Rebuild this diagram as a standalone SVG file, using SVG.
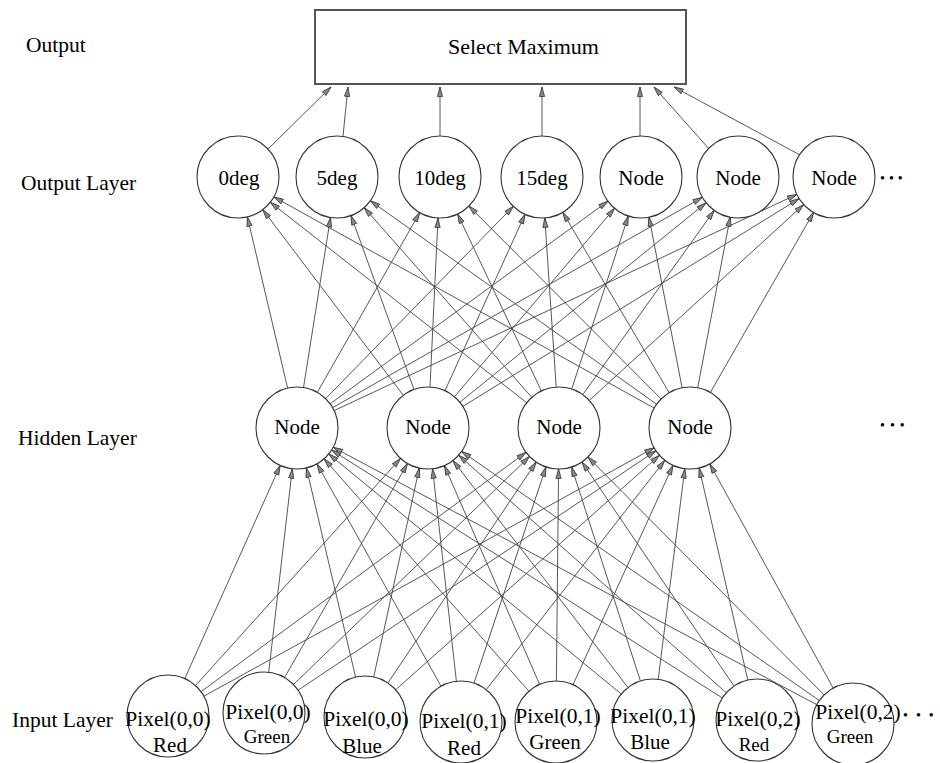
<svg xmlns="http://www.w3.org/2000/svg" width="940" height="763" viewBox="0 0 940 763">
<defs>
<marker id="arr" markerUnits="userSpaceOnUse" markerWidth="11" markerHeight="8" refX="10" refY="3.5" orient="auto">
<path d="M0.5,0.9 L10,3.5 L0.5,6.1 Z" fill="#888" stroke="#333" stroke-width="0.8" stroke-linejoin="miter"/>
</marker>
<style>
.bg{fill:#fff}
.c{fill:#fff;stroke:#333;stroke-width:1.1}
.box{fill:#fff;stroke:#555;stroke-width:2}
.e line{stroke:#444;stroke-width:0.9;marker-end:url(#arr)}
text{font-family:"Liberation Serif","Times New Roman",serif;font-size:21px;fill:#000}
.m{text-anchor:middle}
.p{font-size:21.5px}
.s{font-size:19px}
.lab{font-size:21.5px}
.dots{font-size:14px;letter-spacing:4px}
</style>
</defs>
<rect class="bg" x="0" y="0" width="940" height="763"/>

<g id="labels">
<text class="lab" x="26" y="52">Output</text>
<text class="lab" x="21" y="190">Output Layer</text>
<text class="lab" x="18" y="445">Hidden Layer</text>
<text class="lab" x="12" y="727">Input Layer</text>
</g>

<g id="connectors" class="e">
<!-- output layer to Select Maximum -->
<line x1="268" y1="149" x2="331" y2="87"/>
<line x1="343" y1="136" x2="348" y2="87"/>
<line x1="440" y1="136" x2="440" y2="87"/>
<line x1="542" y1="136" x2="542" y2="87"/>
<line x1="640" y1="136" x2="640" y2="87"/>
<line x1="710" y1="150" x2="654" y2="87"/>
<line x1="800" y1="155" x2="674" y2="87"/>
<!-- hidden to output -->
<line x1="287.6" y1="388.1" x2="247.4" y2="216.9"/>
<line x1="303.5" y1="387.5" x2="330.5" y2="217.5"/>
<line x1="317.3" y1="392.4" x2="419.7" y2="212.6"/>
<line x1="325.6" y1="398.7" x2="513.4" y2="206.3"/>
<line x1="330.1" y1="403.8" x2="607.9" y2="201.2"/>
<line x1="332.6" y1="407.7" x2="702.4" y2="197.3"/>
<line x1="334.1" y1="410.6" x2="796.9" y2="194.4"/>
<line x1="403.3" y1="395.3" x2="262.8" y2="209.7"/>
<line x1="414.0" y1="389.5" x2="351.0" y2="215.5"/>
<line x1="430.0" y1="387.0" x2="438.0" y2="218.0"/>
<line x1="445.0" y1="390.7" x2="525.0" y2="214.3"/>
<line x1="454.5" y1="396.7" x2="614.5" y2="208.3"/>
<line x1="459.9" y1="402.2" x2="706.1" y2="202.8"/>
<line x1="462.9" y1="406.4" x2="799.1" y2="198.6"/>
<line x1="526.7" y1="402.7" x2="270.3" y2="202.3"/>
<line x1="531.8" y1="397.3" x2="364.2" y2="207.7"/>
<line x1="541.4" y1="391.0" x2="457.6" y2="214.0"/>
<line x1="556.2" y1="387.1" x2="544.8" y2="217.9"/>
<line x1="571.7" y1="389.0" x2="628.3" y2="216.0"/>
<line x1="582.8" y1="394.6" x2="714.2" y2="210.4"/>
<line x1="589.3" y1="400.4" x2="803.7" y2="204.6"/>
<line x1="654.2" y1="408.1" x2="273.8" y2="196.9"/>
<line x1="656.6" y1="404.2" x2="370.4" y2="200.8"/>
<line x1="661.1" y1="399.0" x2="468.9" y2="206.0"/>
<line x1="669.2" y1="392.7" x2="562.8" y2="212.3"/>
<line x1="682.1" y1="387.8" x2="648.9" y2="216.8"/>
<line x1="697.7" y1="387.7" x2="730.3" y2="216.7"/>
<line x1="710.4" y1="392.4" x2="813.6" y2="212.4"/>
<!-- input to hidden -->
<line x1="184.8" y1="678.6" x2="280.2" y2="465.4"/>
<line x1="195.5" y1="685.6" x2="400.5" y2="458.4"/>
<line x1="201.0" y1="691.7" x2="526.0" y2="452.3"/>
<line x1="203.9" y1="696.2" x2="654.1" y2="447.8"/>
<line x1="268.7" y1="672.3" x2="292.3" y2="468.7"/>
<line x1="284.5" y1="677.5" x2="407.5" y2="463.5"/>
<line x1="293.5" y1="684.5" x2="529.5" y2="456.5"/>
<line x1="298.1" y1="690.2" x2="655.9" y2="450.8"/>
<line x1="355.6" y1="677.1" x2="306.4" y2="467.9"/>
<line x1="373.7" y1="676.9" x2="419.3" y2="468.1"/>
<line x1="387.9" y1="683.0" x2="536.2" y2="462.0"/>
<line x1="395.6" y1="689.8" x2="659.4" y2="455.3"/>
<line x1="441.0" y1="686.2" x2="317.0" y2="463.8"/>
<line x1="456.4" y1="681.3" x2="432.6" y2="468.8"/>
<line x1="474.0" y1="683.1" x2="546.0" y2="466.9"/>
<line x1="486.2" y1="689.7" x2="664.8" y2="460.3"/>
<line x1="528.9" y1="691.2" x2="324.1" y2="458.8"/>
<line x1="539.6" y1="684.4" x2="444.4" y2="465.6"/>
<line x1="556.4" y1="681.0" x2="558.6" y2="469.0"/>
<line x1="573.0" y1="684.7" x2="673.0" y2="465.3"/>
<line x1="621.3" y1="694.0" x2="328.7" y2="454.0"/>
<line x1="628.0" y1="687.5" x2="453.0" y2="460.5"/>
<line x1="640.4" y1="681.0" x2="571.6" y2="467.0"/>
<line x1="658.2" y1="679.3" x2="684.8" y2="468.7"/>
<line x1="722.4" y1="698.0" x2="331.6" y2="450.0"/>
<line x1="726.3" y1="692.8" x2="458.7" y2="455.2"/>
<line x1="734.0" y1="686.1" x2="582.0" y2="461.9"/>
<line x1="747.8" y1="680.0" x2="699.2" y2="468.0"/>
<line x1="816.8" y1="704.7" x2="333.2" y2="447.3"/>
<line x1="819.4" y1="700.6" x2="461.6" y2="451.4"/>
<line x1="824.1" y1="694.9" x2="587.9" y2="457.1"/>
<line x1="833.2" y1="688.1" x2="709.8" y2="463.9"/>
</g>

<g id="select-maximum">
<rect class="box" x="315" y="10" width="371" height="74"/>
<text x="448" y="54" style="font-size:22px">Select Maximum</text>
</g>

<g id="out-0deg"><circle class="c" cx="238" cy="177" r="41"/><text class="m" x="239" y="185">0deg</text></g>
<g id="out-5deg"><circle class="c" cx="337" cy="177" r="41"/><text class="m" x="337" y="185">5deg</text></g>
<g id="out-10deg"><circle class="c" cx="440" cy="177" r="41"/><text class="m" x="440" y="185">10deg</text></g>
<g id="out-15deg"><circle class="c" cx="542" cy="177" r="41"/><text class="m" x="542" y="185">15deg</text></g>
<g id="out-node5"><circle class="c" cx="641" cy="177" r="41"/><text class="m" x="641" y="185">Node</text></g>
<g id="out-node6"><circle class="c" cx="738" cy="177" r="41"/><text class="m" x="738" y="185">Node</text></g>
<g id="out-node7"><circle class="c" cx="834" cy="177" r="41"/><text class="m" x="834" y="185">Node</text></g>
<text class="dots" x="880" y="183">•••</text>

<g id="hid-1"><circle class="c" cx="297" cy="428" r="41"/><text class="m" x="297" y="434">Node</text></g>
<g id="hid-2"><circle class="c" cx="428" cy="428" r="41"/><text class="m" x="428" y="434">Node</text></g>
<g id="hid-3"><circle class="c" cx="559" cy="428" r="41"/><text class="m" x="559" y="434">Node</text></g>
<g id="hid-4"><circle class="c" cx="690" cy="428" r="41"/><text class="m" x="690" y="434">Node</text></g>
<text class="dots" x="880" y="430" style="letter-spacing:5px">•••</text>

<g id="in-1"><circle class="c" cx="168" cy="716" r="41"/><text class="m p" x="168" y="726">Pixel(0,0)</text><text class="m" x="170" y="752">Red</text></g>
<g id="in-2"><circle class="c" cx="264" cy="713" r="41"/><text class="m p" x="268" y="719">Pixel(0,0)</text><text class="m s" x="267" y="743">Green</text></g>
<g id="in-3"><circle class="c" cx="365" cy="717" r="41"/><text class="m p" x="366" y="726">Pixel(0,0)</text><text class="m" x="362" y="753">Blue</text></g>
<g id="in-4"><circle class="c" cx="461" cy="722" r="41"/><text class="m p" x="464" y="728">Pixel(0,1)</text><text class="m" x="464" y="755">Red</text></g>
<g id="in-5"><circle class="c" cx="556" cy="722" r="41"/><text class="m p" x="558" y="723">Pixel(0,1)</text><text class="m" x="555" y="749">Green</text></g>
<g id="in-6"><circle class="c" cx="653" cy="720" r="41"/><text class="m p" x="653" y="723">Pixel(0,1)</text><text class="m" x="650" y="749">Blue</text></g>
<g id="in-7"><circle class="c" cx="757" cy="720" r="41"/><text class="m p" x="758" y="726">Pixel(0,2)</text><text class="m s" x="754" y="751">Red</text></g>
<g id="in-8"><circle class="c" cx="853" cy="724" r="41"/><text class="m p" x="858" y="719">Pixel(0,2)</text><text class="m s" x="850" y="743">Green</text></g>
<text class="dots" x="903" y="720" style="letter-spacing:8px">•••</text>
</svg>
